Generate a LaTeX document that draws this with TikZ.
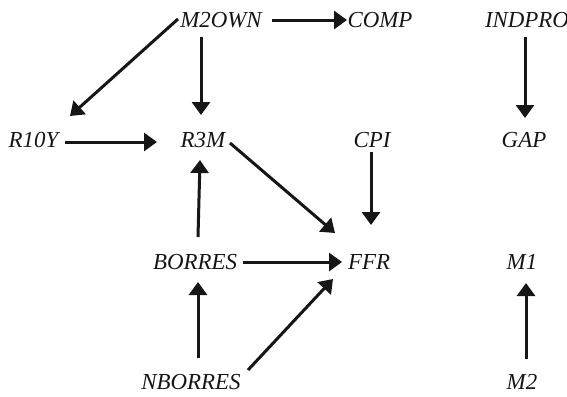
\documentclass[tikz,border=0pt]{standalone}
\usepackage{fontspec}
\setmainfont{Liberation Serif}
\usetikzlibrary{arrows.meta}
\definecolor{ink}{HTML}{161616}
\begin{document}
\begin{tikzpicture}[x=1bp,y=-1bp,
  var/.style={anchor=base,inner sep=0pt,text=ink,font=\fontsize{23}{27}\selectfont\itshape},
  link/.style={draw=ink,line width=3bp,-{Triangle[length=13bp,width=18bp]}}]
\useasboundingbox (0,0) rectangle (567,396);

% variables, placed by their baselines
\node[var] (m2own)   at (221,27)  {M2OWN};
\node[var] (comp)    at (380,27)  {COMP};
\node[var] (indpro)  at (527,27)  {INDPRO};
\node[var] (r10y)    at (33.5,147){R10Y};
\node[var] (r3m)     at (203,147) {R3M};
\node[var] (cpi)     at (372,147) {CPI};
\node[var] (gap)     at (524,147) {GAP};
\node[var] (borres)  at (195,269) {BORRES};
\node[var] (ffr)     at (369,269) {FFR};
\node[var] (m1)      at (522,269) {M1};
\node[var] (nborres) at (191,389) {NBORRES};
\node[var] (m2)      at (522,389) {M2};

% causal links
\draw[link] ([shift={(51,-7)}]m2own.base)    -- ([shift={(-33,-7)}]comp.base);
\draw[link] ([shift={(-43,-8)}]m2own.base)   -- ([shift={(36.5,-31)}]r10y.base);
\draw[link] ([shift={(-20,10)}]m2own.base)   -- ([shift={(-2,-32)}]r3m.base);
\draw[link] ([shift={(31.5,-5)}]r10y.base)   -- ([shift={(-46,-5)}]r3m.base);
\draw[link] ([shift={(-2,10)}]indpro.base)   -- ([shift={(1,-29)}]gap.base);
\draw[link] ([shift={(27,-4)}]r3m.base)      -- ([shift={(-34,-36)}]ffr.base);
\draw[link] ([shift={(-1,5)}]cpi.base)       -- ([shift={(2,-44)}]ffr.base);
\draw[link] ([shift={(3,-32)}]borres.base)   -- ([shift={(-3,13)}]r3m.base);
\draw[link] ([shift={(48,-7)}]borres.base)   -- ([shift={(-27,-7)}]ffr.base);
\draw[link] ([shift={(7,-31)}]nborres.base)  -- ([shift={(3,13)}]borres.base);
\draw[link] ([shift={(57,-19)}]nborres.base) -- ([shift={(-36,10)}]ffr.base);
\draw[link] ([shift={(4,-30)}]m2.base)       -- ([shift={(4,14)}]m1.base);
\end{tikzpicture}
\end{document}
